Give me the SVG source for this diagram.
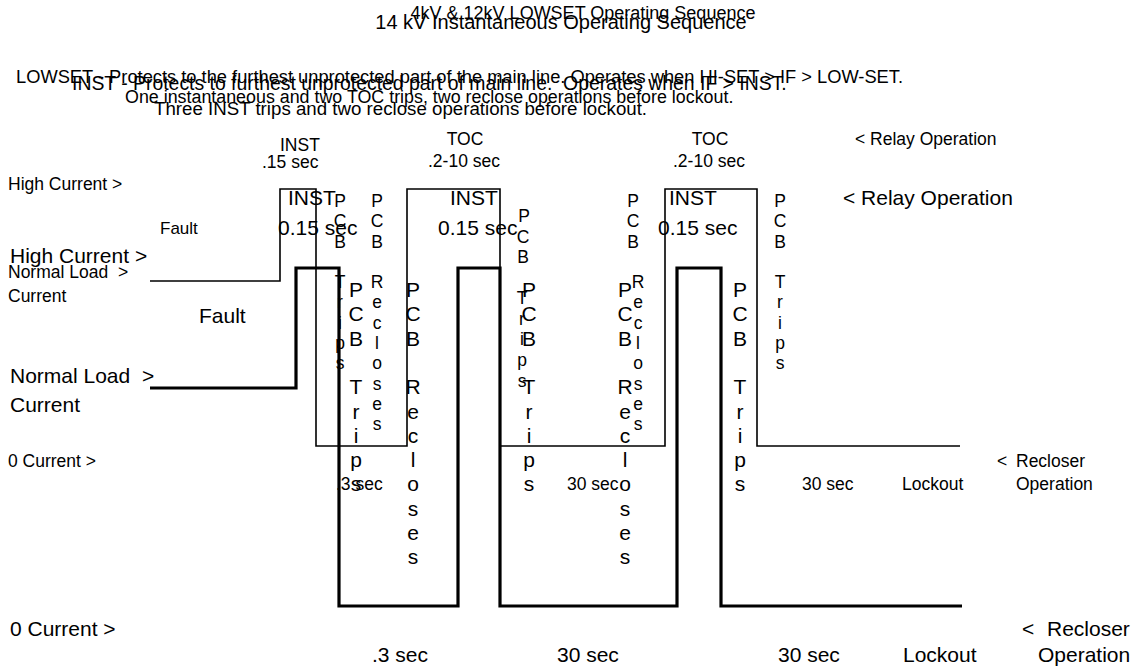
<svg xmlns="http://www.w3.org/2000/svg" width="1145" height="669" viewBox="0 0 1145 669">
<style>
text{font-family:"Liberation Sans",Arial,sans-serif;fill:#000}
.s{font-size:17.5px}
.b{font-size:21px}
.vs{font-size:17.5px;text-anchor:middle}
.vb{font-size:21px;text-anchor:middle}
.thin{fill:none;stroke:#000;stroke-width:1.6}
.thick{fill:none;stroke:#000;stroke-width:3.2}
</style>
<rect width="1145" height="669" fill="#fff"/>
<g id="lowset-diagram">
<text class="s" x="583" y="19" text-anchor="middle" style="font-size:18px">4kV &amp; 12kV LOWSET Operating Sequence</text>
<text class="s" x="16" y="83" style="font-size:18.3px">LOWSET - Protects to the furthest unprotected part of the main line. Operates when HI-SET &gt; IF &gt; LOW-SET.</text>
<text class="s" x="125" y="103" style="font-size:17.85px">One instantaneous and two TOC trips, two reclose operations before lockout.</text>
<text class="s" x="280" y="151">INST</text>
<text class="s" x="262" y="168">.15 sec</text>
<text class="s" x="465" y="145" text-anchor="middle">TOC</text>
<text class="s" x="428" y="167">.2-10 sec</text>
<text class="s" x="710" y="145" text-anchor="middle">TOC</text>
<text class="s" x="673" y="167">.2-10 sec</text>
<text class="s" x="855" y="145">&lt; Relay Operation</text>
<text class="s" x="8" y="190">High Current &gt;</text>
<text class="s" x="160" y="234" style="font-size:17px">Fault</text>
<text class="s" x="8" y="278" xml:space="preserve">Normal Load  &gt;</text>
<text class="s" x="8" y="302">Current</text>
<text class="s" x="8" y="467">0 Current &gt;</text>
<text class="s" x="336" y="490">.3 sec</text>
<text class="s" x="567" y="490">30 sec</text>
<text class="s" x="802" y="490">30 sec</text>
<text class="s" x="902" y="490">Lockout</text>
<text class="s" x="997" y="467">&lt;</text>
<text class="s" x="1016" y="467">Recloser</text>
<text class="s" x="1016" y="490">Operation</text>
<text class="vs"><tspan x="340" y="207">P</tspan><tspan x="340" y="227">C</tspan><tspan x="340" y="248">B</tspan><tspan x="340" y="288">T</tspan><tspan x="340" y="308">r</tspan><tspan x="340" y="329">i</tspan><tspan x="340" y="349">p</tspan><tspan x="340" y="369">s</tspan></text>
<text class="vs"><tspan x="377" y="207">P</tspan><tspan x="377" y="227">C</tspan><tspan x="377" y="248">B</tspan><tspan x="377" y="288">R</tspan><tspan x="377" y="308">e</tspan><tspan x="377" y="329">c</tspan><tspan x="377" y="349">l</tspan><tspan x="377" y="369">o</tspan><tspan x="377" y="390">s</tspan><tspan x="377" y="410">e</tspan><tspan x="377" y="430">s</tspan></text>
<text class="vs"><tspan x="524" y="222">P</tspan><tspan x="523" y="243">C</tspan><tspan x="523" y="263">B</tspan><tspan x="522" y="304">T</tspan><tspan x="522" y="325">r</tspan><tspan x="522" y="345">i</tspan><tspan x="522" y="366">p</tspan><tspan x="522" y="387">s</tspan></text>
<text class="vs"><tspan x="633" y="207">P</tspan><tspan x="633" y="227">C</tspan><tspan x="633" y="248">B</tspan><tspan x="638" y="288">R</tspan><tspan x="638" y="308">e</tspan><tspan x="638" y="329">c</tspan><tspan x="638" y="349">l</tspan><tspan x="638" y="369">o</tspan><tspan x="638" y="390">s</tspan><tspan x="638" y="410">e</tspan><tspan x="638" y="430">s</tspan></text>
<text class="vs"><tspan x="780" y="207">P</tspan><tspan x="780" y="227">C</tspan><tspan x="780" y="248">B</tspan><tspan x="780" y="288">T</tspan><tspan x="780" y="308">r</tspan><tspan x="780" y="329">i</tspan><tspan x="780" y="349">p</tspan><tspan x="780" y="369">s</tspan></text>
</g>
<g id="inst-diagram">
<text class="b" x="561" y="29" text-anchor="middle" style="font-size:20px">14 kV Instantaneous Operating Sequence</text>
<text class="b" x="72" y="90" xml:space="preserve" style="font-size:19.4px">INST - Protects to furthest unprotected part of main line.  Operates when IF &gt; INST.</text>
<text class="b" x="154" y="115" style="font-size:18.7px">Three INST trips and two reclose operations before lockout.</text>
<text class="b" x="288" y="205">INST</text>
<text class="b" x="278" y="235">0.15 sec</text>
<text class="b" x="450" y="205">INST</text>
<text class="b" x="438" y="235">0.15 sec</text>
<text class="b" x="669" y="205">INST</text>
<text class="b" x="658" y="235">0.15 sec</text>
<text class="b" x="843" y="205">&lt; Relay Operation</text>
<text class="b" x="10" y="263">High Current &gt;</text>
<text class="b" x="199" y="323">Fault</text>
<text class="b" x="10" y="383" xml:space="preserve">Normal Load  &gt;</text>
<text class="b" x="10" y="412">Current</text>
<text class="b" x="10" y="636">0 Current &gt;</text>
<text class="b" x="372" y="662">.3 sec</text>
<text class="b" x="557" y="662">30 sec</text>
<text class="b" x="778" y="662">30 sec</text>
<text class="b" x="903" y="662">Lockout</text>
<text class="b" x="1022" y="636">&lt;</text>
<text class="b" x="1047" y="636">Recloser</text>
<text class="b" x="1038" y="662">Operation</text>
<text class="vb"><tspan x="356" y="297">P</tspan><tspan x="356" y="321">C</tspan><tspan x="356" y="346">B</tspan><tspan x="356" y="394">T</tspan><tspan x="356" y="419">r</tspan><tspan x="356" y="443">i</tspan><tspan x="356" y="467">p</tspan><tspan x="356" y="491">s</tspan></text>
<text class="vb"><tspan x="413" y="297">P</tspan><tspan x="413" y="321">C</tspan><tspan x="413" y="346">B</tspan><tspan x="413" y="394">R</tspan><tspan x="413" y="419">e</tspan><tspan x="413" y="443">c</tspan><tspan x="413" y="467">l</tspan><tspan x="413" y="491">o</tspan><tspan x="413" y="516">s</tspan><tspan x="413" y="540">e</tspan><tspan x="413" y="564">s</tspan></text>
<text class="vb"><tspan x="529" y="297">P</tspan><tspan x="529" y="321">C</tspan><tspan x="529" y="346">B</tspan><tspan x="529" y="394">T</tspan><tspan x="529" y="419">r</tspan><tspan x="529" y="443">i</tspan><tspan x="529" y="467">p</tspan><tspan x="529" y="491">s</tspan></text>
<text class="vb"><tspan x="625" y="297">P</tspan><tspan x="625" y="321">C</tspan><tspan x="625" y="346">B</tspan><tspan x="625" y="394">R</tspan><tspan x="625" y="419">e</tspan><tspan x="625" y="443">c</tspan><tspan x="625" y="467">l</tspan><tspan x="625" y="491">o</tspan><tspan x="625" y="516">s</tspan><tspan x="625" y="540">e</tspan><tspan x="625" y="564">s</tspan></text>
<text class="vb"><tspan x="740" y="297">P</tspan><tspan x="740" y="321">C</tspan><tspan x="740" y="346">B</tspan><tspan x="740" y="394">T</tspan><tspan x="740" y="419">r</tspan><tspan x="740" y="443">i</tspan><tspan x="740" y="467">p</tspan><tspan x="740" y="491">s</tspan></text>
</g>
<g id="connectors">
<path class="thin" d="M150,281 H280 V189 H316 V446 H407 V189 H500 V446 H665 V189 H757 V446 H960"/>
<path class="thick" d="M150,388 H296 V268 H339 V606 H458 V268 H500 V606 H677 V268 H721 V606 H962"/>
</g>
</svg>
